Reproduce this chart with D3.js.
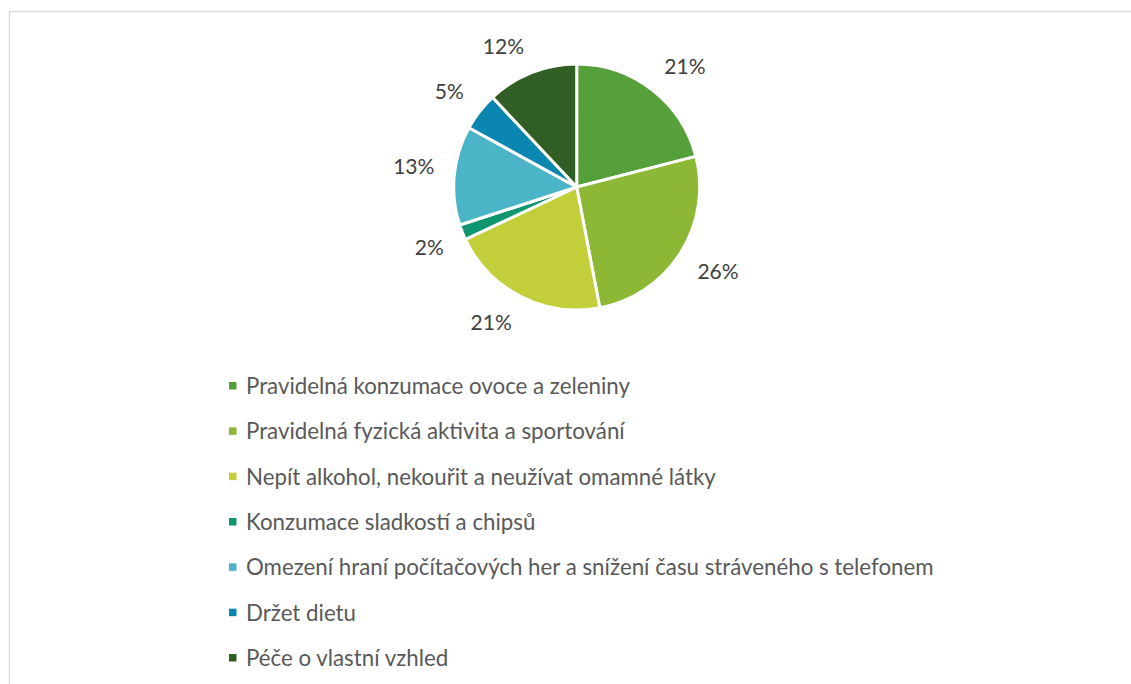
<!DOCTYPE html>
<html>
<head>
<meta charset="utf-8">
<script src="https://cdn.jsdelivr.net/npm/d3@7/dist/d3.min.js"></script>
<style>
  html, body { margin: 0; padding: 0; background: #ffffff; }
  svg { display: block; }
</style>
</head>
<body>
<svg id="chart" width="1131" height="684"></svg>
<script>
// Categories, their shares (%) and slice colours
const categories = [
  "Pravidelná konzumace ovoce a zeleniny",
  "Pravidelná fyzická aktivita a sportování",
  "Nepít alkohol, nekouřit a neužívat omamné látky",
  "Konzumace sladkostí a chipsů",
  "Omezení hraní počítačových her a snížení času stráveného s telefonem",
  "Držet dietu",
  "Péče o vlastní vzhled"
];
const values = [21, 26, 21, 2, 13, 5, 12];
const colors = ["#55a03b", "#8cb835", "#c2cf3a", "#0f9670", "#4bb4c6", "#0b86b0", "#305e24"];

const W = 1131, H = 684;
const svg = d3.select("#chart");
const FONT = "Lato, 'Open Sans', sans-serif";

// outer frame
svg.append("rect")
  .attr("x", 9.5).attr("y", 11.5)
  .attr("width", 1300).attr("height", 900)
  .attr("fill", "none").attr("stroke", "#d9d9d9").attr("stroke-width", 1.3);

const cx = 576.7, cy = 187, R = 123;

const pie = d3.pie().value(d => d).sort(null);
const arcs = pie(values);
const arc = d3.arc().innerRadius(0).outerRadius(R);

const g = svg.append("g").attr("transform", `translate(${cx},${cy})`);

g.selectAll("path.slice")
  .data(arcs)
  .join("path")
  .attr("class", "slice")
  .attr("d", arc)
  .attr("fill", (d, i) => colors[i])
  .attr("stroke", "#ffffff")
  .attr("stroke-width", 3)
  .attr("stroke-linejoin", "round");

// Percentage labels outside the pie: the label box corner nearest the pie
// sits on the slice's mid-angle at a fixed radius.
const labelR = 143;
const labelSize = 21;
const capH = labelSize * 0.72;
g.selectAll("text.pct")
  .data(arcs)
  .join("text")
  .attr("class", "pct")
  .each(function (d) {
    const a = (d.startAngle + d.endAngle) / 2;
    const s = Math.sin(a), c = Math.cos(a);
    const x = labelR * s, y = -labelR * c;
    d3.select(this)
      .attr("x", x)
      .attr("y", c >= 0 ? y : y + capH)
      .attr("text-anchor", s >= 0 ? "start" : "end");
  })
  .attr("font-family", FONT)
  .attr("font-size", labelSize)
  .attr("fill", "#404040")
  .text(d => d.data + "%");

// Legend
const legendY = d3.scalePoint().domain(categories).range([386, 658]);
const legend = svg.append("g");
const rows = legend.selectAll("g.row")
  .data(categories)
  .join("g")
  .attr("class", "row")
  .attr("transform", d => `translate(0,${legendY(d)})`);

rows.append("rect")
  .attr("x", 229).attr("y", -4).attr("width", 7.5).attr("height", 7.5)
  .attr("fill", (d, i) => colors[i]);

const texts = rows.append("text")
  .attr("x", 246)
  .attr("y", 0)
  .attr("dy", "0.36em")
  .attr("font-family", FONT)
  .attr("font-size", 20)
  .attr("fill", "#595959")
  .text(d => d);

// size the legend text so the longest entry spans its full width
let maxW = 0;
texts.each(function () { maxW = Math.max(maxW, this.getComputedTextLength()); });
const fs = 20 * 688 / maxW;
texts.attr("font-size", fs);
</script>
</body>
</html>
